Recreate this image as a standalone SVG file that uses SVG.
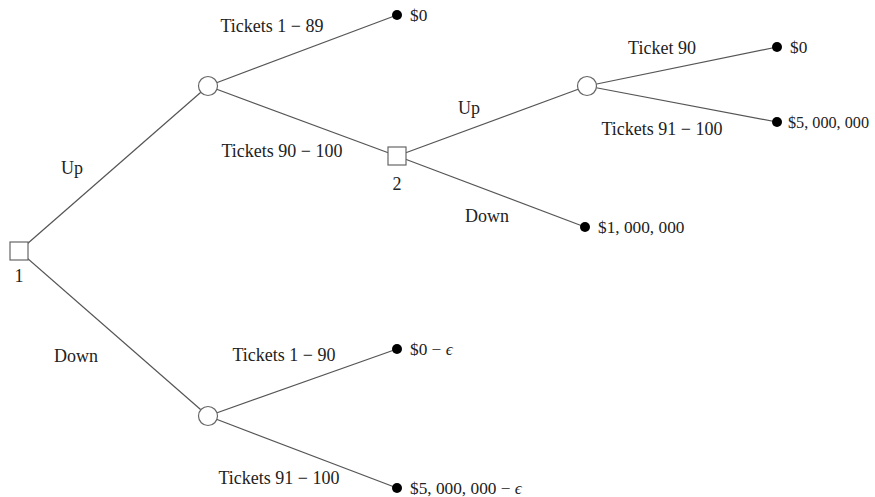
<svg xmlns="http://www.w3.org/2000/svg" width="875" height="497" viewBox="0 0 875 497">
<style>
.e{stroke:#555;stroke-width:1.2;fill:none}
.dec{fill:#fff;stroke:#666;stroke-width:1.2}
.ch{fill:#fff;stroke:#666;stroke-width:1.2}
.t{stroke:none;fill:#000}
text{font-family:"Liberation Serif","DejaVu Serif",serif;font-size:18px;fill:#222}
.v{font-size:17.3px}
.m{text-anchor:middle}
</style>
<rect width="875" height="497" fill="#fff"/>
<g id="connectors">
<line class="e" x1="19" y1="251" x2="208" y2="86"/>
<line class="e" x1="19" y1="251" x2="208" y2="416"/>
<line class="e" x1="208" y1="86" x2="397" y2="15"/>
<line class="e" x1="208" y1="86" x2="397" y2="156"/>
<line class="e" x1="397" y1="156" x2="587" y2="86"/>
<line class="e" x1="397" y1="156" x2="585" y2="227"/>
<line class="e" x1="587" y1="86" x2="777" y2="47"/>
<line class="e" x1="587" y1="86" x2="777" y2="122"/>
<line class="e" x1="208" y1="416" x2="397" y2="349"/>
<line class="e" x1="208" y1="416" x2="397" y2="488"/>
</g>
<g id="edge-labels">
<text class="m" x="72" y="174">Up</text>
<text class="m" x="76" y="362">Down</text>
<text class="m" x="272" y="32">Tickets 1 − 89</text>
<text class="m" x="282" y="157">Tickets 90 − 100</text>
<text class="m" x="469" y="114">Up</text>
<text class="m" x="487" y="222">Down</text>
<text class="m" x="662" y="54">Ticket 90</text>
<text class="m" x="662" y="135">Tickets 91 − 100</text>
<text class="m" x="284" y="361">Tickets 1 − 90</text>
<text class="m" x="279" y="484">Tickets 91 − 100</text>
</g>
<g id="n1">
<rect class="dec" x="10" y="242" width="18" height="18"/>
<text class="m" x="19" y="282">1</text>
</g>
<g id="c1">
<circle class="ch" cx="208" cy="86" r="9.5"/>
</g>
<g id="c2">
<circle class="ch" cx="208" cy="416" r="9.5"/>
</g>
<g id="n2">
<rect class="dec" x="388" y="147" width="18" height="18"/>
<text class="m" x="397" y="190">2</text>
</g>
<g id="c3">
<circle class="ch" cx="587" cy="86" r="9.5"/>
</g>
<g id="t1">
<circle class="t" cx="397" cy="15" r="5"/>
<text class="v" x="410" y="21">$0</text>
</g>
<g id="t2">
<circle class="t" cx="777" cy="47" r="5"/>
<text class="v" x="790" y="53">$0</text>
</g>
<g id="t3">
<circle class="t" cx="777" cy="122" r="5"/>
<text class="v" x="788" y="128" textLength="81" lengthAdjust="spacingAndGlyphs">$5, 000, 000</text>
</g>
<g id="t4">
<circle class="t" cx="585" cy="227" r="5"/>
<text class="v" x="598" y="233">$1, 000, 000</text>
</g>
<g id="t5">
<circle class="t" cx="397" cy="349" r="5"/>
<text class="v" x="410" y="355">$0 − <tspan font-style="italic">ϵ</tspan></text>
</g>
<g id="t6">
<circle class="t" cx="397" cy="488" r="5"/>
<text class="v" x="410" y="494">$5, 000, 000 − <tspan font-style="italic">ϵ</tspan></text>
</g>
</svg>
